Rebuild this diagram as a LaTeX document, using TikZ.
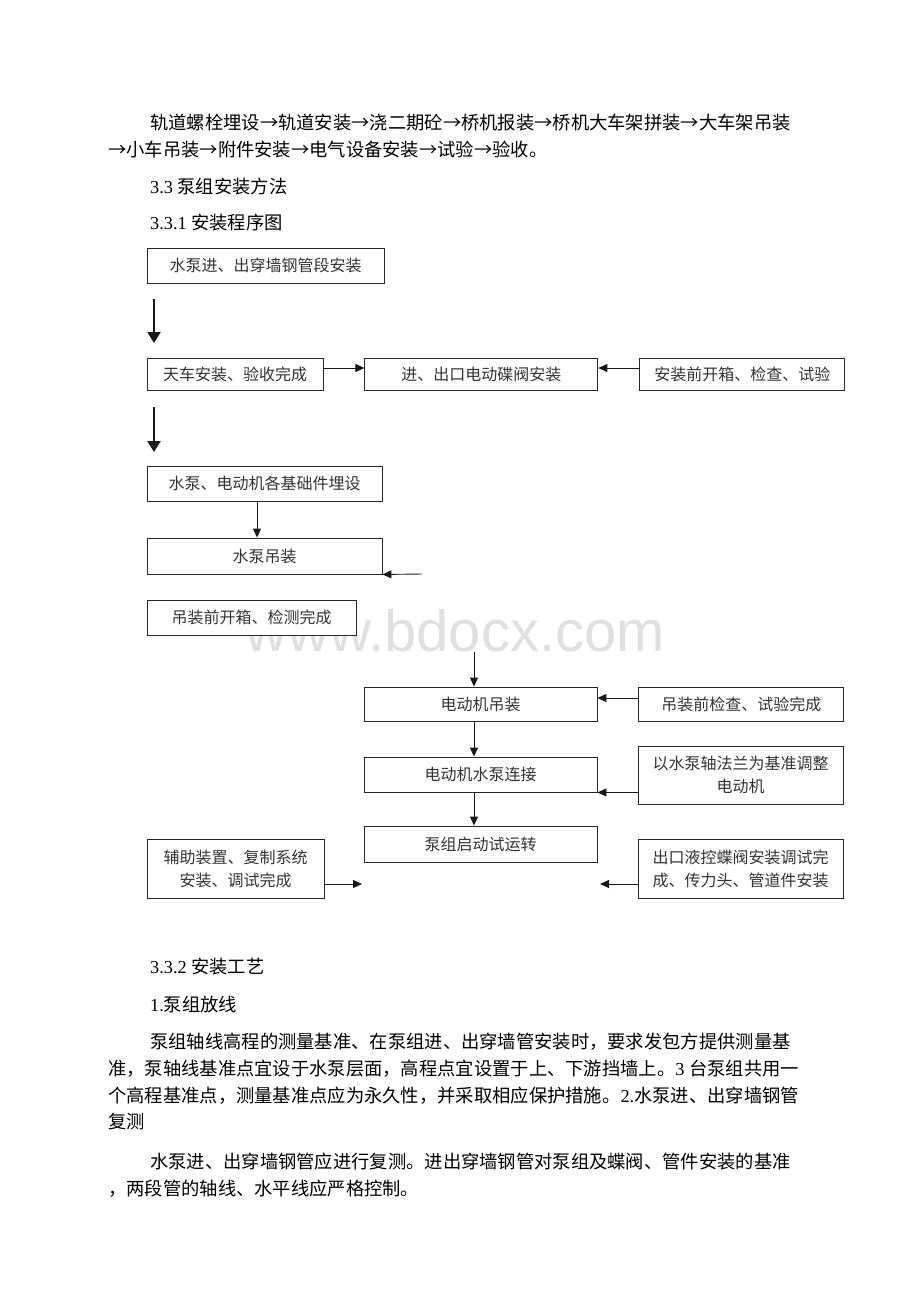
\documentclass[tikz,border=0pt]{standalone}
\usepackage{fontspec}
\setmainfont{Liberation Serif}
\newfontfamily\cjk{Noto Sans CJK SC}
\newfontfamily\marksans{Liberation Sans}
\usetikzlibrary{arrows.meta}
\usetikzlibrary{positioning}

\tikzset{
  stepbox/.style={draw=black!85, line width=0.9pt, fill=white, inner sep=0pt, align=center,
    text=black!80, font=\cjk\fontsize{16}{23}\selectfont},
  flow/.style={-{Triangle[length=9pt,width=8pt]}, line width=0.9pt, black!90},
  bigflow/.style={-{Triangle[length=11pt,width=13pt]}, line width=2.2pt, black!90},
  para/.style={anchor=base west, inner sep=0pt, font=\cjk\fontsize{18.3}{22}\selectfont}
}

\begin{document}
\begin{tikzpicture}[x=1pt,y=-1pt,node distance=41pt]
\useasboundingbox[fill=white] (0,0) rectangle (920,1302);

% watermark
\node[anchor=base east, inner sep=0pt, text=black!12, font=\marksans\fontsize{58}{58}\selectfont]
  (mark) at (665,651) {www.bdocx.com};

% text above the chart
\node[para] (l1) at (150,129) {轨道螺栓埋设→轨道安装→浇二期砼→桥机报装→桥机大车架拼装→大车架吊装};
\node[para] (l2) at (108,156) {→小车吊装→附件安装→电气设备安装→试验→验收。};
\node[para] (h1) at (150,193) {{\rmfamily 3.3 }泵组安装方法};
\node[para] (h2) at (150,229) {{\rmfamily 3.3.1 }安装程序图};

% Place nodes
\node[stepbox, minimum width=237pt, minimum height=35pt] (pipe) at (265.5,265.5) {水泵进、出穿墙钢管段安装};

\node[stepbox, minimum width=176pt, minimum height=32pt] (crane) at (235,374) {天车安装、验收完成};
\node[stepbox, minimum width=233pt, minimum height=32pt, right=of crane] (valve) {进、出口电动碟阀安装};
\node[stepbox, minimum width=205pt, minimum height=32pt, right=of valve] (unpack) {安装前开箱、检查、试验};

\node[stepbox, minimum width=235pt, minimum height=35pt] (found) at (264.5,483.5) {水泵、电动机各基础件埋设};
\node[stepbox, minimum width=235pt, minimum height=36pt] (hoist) at (264.5,556) {水泵吊装};
\node[stepbox, minimum width=209pt, minimum height=35pt] (precheck) at (251.5,617.5) {吊装前开箱、检测完成};

\node[stepbox, minimum width=233pt, minimum height=34pt] (motor) at (480.5,704) {电动机吊装};
\node[stepbox, minimum width=205pt, minimum height=34pt, right=of motor] (mcheck) {吊装前检查、试验完成};
\node[stepbox, minimum width=233pt, minimum height=35pt] (couple) at (480.5,774.5) {电动机水泵连接};
\node[stepbox, minimum width=205pt, minimum height=58pt] (adjust) at (740.5,775) {以水泵轴法兰为基准调整\\电动机};
\node[stepbox, minimum width=233pt, minimum height=36pt] (run) at (480.5,844) {泵组启动试运转};
\node[stepbox, minimum width=177pt, minimum height=59pt] (aux) at (235.5,868.5) {辅助装置、复制系统\\安装、调试完成};
\node[stepbox, minimum width=205pt, minimum height=59pt] (outlet) at (740.5,868.5) {出口液控蝶阀安装调试完\\成、传力头、管道件安装};

% free ends
\coordinate (d1) at (154,299);
\coordinate (d1e) at (154,343);
\coordinate (d2) at (154,407);
\coordinate (d2e) at (154,452);
\coordinate (h0) at (422,574);
\coordinate (m0) at (474,652);
\coordinate (auxend) at (362,884);
\coordinate (outend) at (600,884);

% connectors
\draw[bigflow] (d1) -- (d1e);
\draw[bigflow] (d2) -- (d2e);
\draw[flow] ([yshift=6pt]crane.east) -- ([yshift=6pt]valve.west);
\draw[flow] ([yshift=6pt]unpack.west) -- ([yshift=6pt]valve.east);
\draw[flow] ([xshift=-7.5pt]found.south) -- ([xshift=-7.5pt]hoist.north);
\draw[flow] (h0) -- (hoist.south east);
\draw[flow] (m0) -- ([xshift=-6.5pt]motor.north);
\draw[flow] ([yshift=6pt]mcheck.west) -- ([yshift=6pt]motor.east);
\draw[flow] ([xshift=-6.5pt]motor.south) -- ([xshift=-6.5pt]couple.north);
\draw[flow] (adjust.west |- couple.south east) -- (couple.south east);
\draw[flow] ([xshift=-6.5pt]couple.south) -- ([xshift=-6.5pt]run.north);
\draw[flow] (aux.east |- auxend) -- (auxend);
\draw[flow] (outlet.west |- outend) -- (outend);

% text below the chart
\node[para] (h3) at (150,973) {{\rmfamily 3.3.2 }安装工艺};
\node[para] (h4) at (150,1011) {{\rmfamily 1.}泵组放线};
\node[para] (p1) at (150,1048) {泵组轴线高程的测量基准、在泵组进、出穿墙管安装时，要求发包方提供测量基};
\node[para] (p2) at (108,1075) {准，泵轴线基准点宜设于水泵层面，高程点宜设置于上、下游挡墙上。{\rmfamily 3 }台泵组共用一};
\node[para] (p3) at (108,1102) {个高程基准点，测量基准点应为永久性，并采取相应保护措施。{\rmfamily 2.}水泵进、出穿墙钢管};
\node[para] (p4) at (108,1128) {复测};
\node[para] (p5) at (150,1168) {水泵进、出穿墙钢管应进行复测。进出穿墙钢管对泵组及蝶阀、管件安装的基准};
\node[para] (p6) at (108,1195) {，两段管的轴线、水平线应严格控制。};
\end{tikzpicture}
\end{document}
